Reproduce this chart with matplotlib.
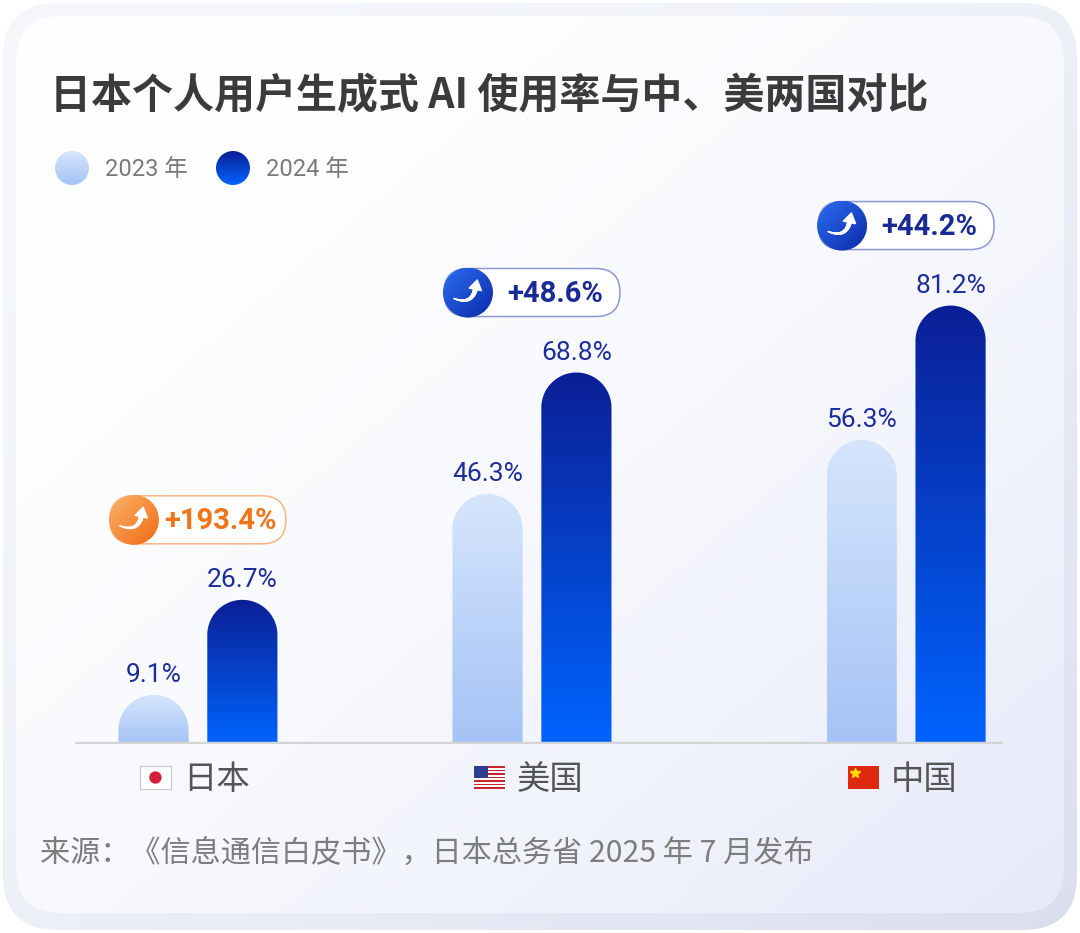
import numpy as np
import matplotlib
matplotlib.use("Agg")
import matplotlib.pyplot as plt
from matplotlib.patches import FancyBboxPatch, Circle, Rectangle, PathPatch, Polygon
from matplotlib.path import Path
from matplotlib.colors import to_rgb

plt.rcParams['font.family'] = ['Noto Sans CJK SC', 'DejaVu Sans']

# ---- data ----
countries = ['日本', '美国', '中国']
years = ['2023 年', '2024 年']
rate_2023 = [9.1, 46.3, 56.3]
rate_2024 = [26.7, 68.8, 81.2]
title = '日本个人用户生成式 AI 使用率与中、美两国对比'
source = '来源：《信息通信白皮书》，日本总务省 2025 年 7 月发布'

W, H = 1080, 933
NUM_FONT = ['Roboto', 'Noto Sans CJK SC', 'DejaVu Sans']

fig = plt.figure(figsize=(W / 100, H / 100), dpi=100)
fig.patch.set_facecolor('white')

bg = fig.add_axes([0, 0, 1, 1], zorder=0)
bg.set_xlim(0, W)
bg.set_ylim(H, 0)
bg.set_autoscale_on(False)
bg.axis('off')


def grad_fill(axis, extent, c0, c1, clip, diagonal=False, zorder=1, power=1.0):
    n = 200
    yy, xx = np.mgrid[0:1:n * 1j, 0:1:n * 1j]
    t = (xx + yy) / 2 if diagonal else yy
    t = t ** power
    a, b = np.array(to_rgb(c0)), np.array(to_rgb(c1))
    img = a[None, None, :] * (1 - t[..., None]) + b[None, None, :] * t[..., None]
    im = axis.imshow(img, extent=extent, origin='upper', aspect='auto',
                     interpolation='bilinear', zorder=zorder)
    im.set_clip_path(clip)
    return im


# card frame and inner card
outer = FancyBboxPatch((3, 3), W - 6, H - 6, boxstyle='round,pad=0,rounding_size=55',
                       transform=bg.transData, facecolor='none', edgecolor='none')
bg.add_patch(outer)
grad_fill(bg, (3, W - 3, H - 3, 3), '#f5f7fb', '#dadeef', outer, diagonal=True, zorder=0.1, power=1.8)
inner = FancyBboxPatch((16, 16), 1048, 897, boxstyle='round,pad=0,rounding_size=45',
                       transform=bg.transData, facecolor='none', edgecolor='none')
bg.add_patch(inner)
grad_fill(bg, (16, 1064, 913, 16), '#ffffff', '#e6eaf9', inner, diagonal=True, zorder=0.2, power=1.8)

# title
bg.text(50, 96, title, fontsize=29.5, fontweight='bold', color='#3b3b3b', va='center', ha='left')

# legend
light = ('#d6e5fc', '#a4c3f6')
dark = ('#0b1f95', '#0064ff')
for (lx, tx), cols, lab in zip([(72, 105), (233, 266)], [light, dark], years):
    c = Circle((lx, 168), 17, transform=bg.transData, facecolor='none', edgecolor='none')
    bg.add_patch(c)
    grad_fill(bg, (lx - 17, lx + 17, 185, 151), cols[0], cols[1], c, zorder=2)
    bg.text(tx, 169, lab, fontsize=17, color='#7a7a7a', va='center', ha='left', family=NUM_FONT)

# ---- chart axes ----
gx = np.array([0.0, 1.0, 2.12])
off = 0.133
bw = 0.21
ax = fig.add_axes([75 / W, (H - 744) / H, (1003 - 75) / W, (744 - 190) / H], zorder=1)
ax.set_xlim(-0.368, 2.41)
ax.set_ylim(0, 102.6)
ax.set_autoscale_on(False)
ax.patch.set_alpha(0)
ax.axis('off')

p0 = ax.transData.transform((0, 0))
p1 = ax.transData.transform((1, 1))
ppx, ppy = p1[0] - p0[0], p1[1] - p0[1]


def rounded_bar(xc, top, cols):
    hw = bw / 2
    ry = hw * ppx / ppy
    ang = np.linspace(np.pi, 0, 60)
    verts = [(xc - hw, 0)] + [(xc + hw * np.cos(a), top - ry + ry * np.sin(a)) for a in ang]
    verts += [(xc + hw, 0), (xc - hw, 0)]
    codes = [Path.MOVETO] + [Path.LINETO] * (len(verts) - 2) + [Path.CLOSEPOLY]
    patch = PathPatch(Path(verts, codes), transform=ax.transData, facecolor='none', edgecolor='none')
    ax.add_patch(patch)
    grad_fill(ax, (xc - hw, xc + hw, 0, top), cols[0], cols[1], patch, zorder=2)
    ax.annotate(f'{top:.1f}%', xy=(xc, top), xytext=(0, 13), textcoords='offset pixels',
                ha='center', va='baseline', fontsize=19, color='#1c2c9c', family=NUM_FONT, zorder=3)


for i in range(len(countries)):
    rounded_bar(gx[i] - off, rate_2023[i], light)
    rounded_bar(gx[i] + off, rate_2024[i], dark)

ax.axhline(0, color='#d4d4d4', lw=3.2, zorder=4)
ax.set_xlim(-0.368, 2.41)
ax.set_ylim(0, 102.6)


# ---- badges, flags, category labels (drawn in pixel space) ----
def to_px(x, y):
    d = ax.transData.transform((x, y))
    return d[0], H - d[1]


def up_arrow(cx, cy):
    # white swoosh arrow inside the badge circle
    q0, q1, q2 = np.array([-14.0, 6.0]), np.array([4.0, 13.0]), np.array([7.5, -4.0])
    s = np.linspace(0, 1, 30)[:, None]
    pts = (1 - s) ** 2 * q0 + 2 * (1 - s) * s * q1 + s ** 2 * q2
    widths = np.linspace(1.2, 3.6, len(pts))
    for k in range(len(pts) - 1):
        bg.plot(cx + pts[k:k + 2, 0], cy + pts[k:k + 2, 1], color='white', lw=widths[k],
                solid_capstyle='round', zorder=5)
    d = q2 - q1
    d = d / np.hypot(*d)
    nrm = np.array([-d[1], d[0]])
    tip = q2 + d * 9
    head = [tip, q2 + nrm * 6.5 - d * 1, q2 - nrm * 6.5 - d * 1]
    bg.add_patch(Polygon([(cx + p[0], cy + p[1]) for p in head], closed=True,
                         facecolor='white', edgecolor='white', lw=0.8, zorder=5))


def badge(cx, cy, text, orange):
    bwid, bh = 176, 48
    left = cx - bwid / 2
    if orange:
        edge, c0, c1, tcol = '#f7b586', '#fbb36c', '#f06a10', '#f07419'
    else:
        edge, c0, c1, tcol = '#8b98d4', '#2c6df2', '#0a2aa6', '#1a2a96'
    pill = FancyBboxPatch((left, cy - bh / 2), bwid, bh, boxstyle='round,pad=0,rounding_size=24',
                          transform=bg.transData, facecolor='white', edgecolor=edge, lw=1.1, zorder=3)
    bg.add_patch(pill)
    r = 25
    ccx = left + 24
    circ = Circle((ccx, cy), r, transform=bg.transData, facecolor='none', edgecolor='none')
    bg.add_patch(circ)
    grad_fill(bg, (ccx - r, ccx + r, cy + r, cy - r), c0, c1, circ, diagonal=True, zorder=4)
    up_arrow(ccx, cy)
    bg.text((left + 48 + left + bwid) / 2 - 1, cy + 1, text, fontsize=21, fontweight='bold', color=tcol,
            ha='center', va='center', family=NUM_FONT, zorder=5)


def flag(kind, x0, y0, w=31, h=23):
    if kind == 0:
        bg.add_patch(Rectangle((x0, y0), w, h, facecolor='white', edgecolor='#c8c8c8', lw=0.8, zorder=3))
        bg.add_patch(Circle((x0 + w / 2, y0 + h / 2), 6.2, facecolor='#d61f3c', edgecolor='none', zorder=4))
    elif kind == 1:
        sh = h / 13
        for k in range(13):
            bg.add_patch(Rectangle((x0, y0 + k * sh), w, sh, facecolor='#c9252c' if k % 2 == 0 else 'white',
                                   edgecolor='none', zorder=3))
        bg.add_patch(Rectangle((x0, y0), w * 0.45, sh * 7, facecolor='#2c3f8f', edgecolor='none', zorder=4))
    else:
        bg.add_patch(Rectangle((x0, y0), w, h, facecolor='#de2910', edgecolor='none', zorder=3))
        bg.plot([x0 + 7], [y0 + 7], marker='*', color='#ffde00', markersize=7, zorder=4)


for i, name in enumerate(countries):
    a, b = rate_2023[i], rate_2024[i]
    bx, by = to_px(gx[i], b)
    badge(bx, by - 80, f'+{(b - a) / a * 100:.1f}%', orange=(i == 0))
    gcx, _ = to_px(gx[i], 0)
    flag(i, gcx - 58, 766)
    bg.text(gcx - 15, 779, name, fontsize=24, color='#555555', ha='left', va='center')

bg.text(40, 854, source, fontsize=21.7, color='#7d7d7d', ha='left', va='center')

fig.savefig('out.png', dpi=100, facecolor='white')
